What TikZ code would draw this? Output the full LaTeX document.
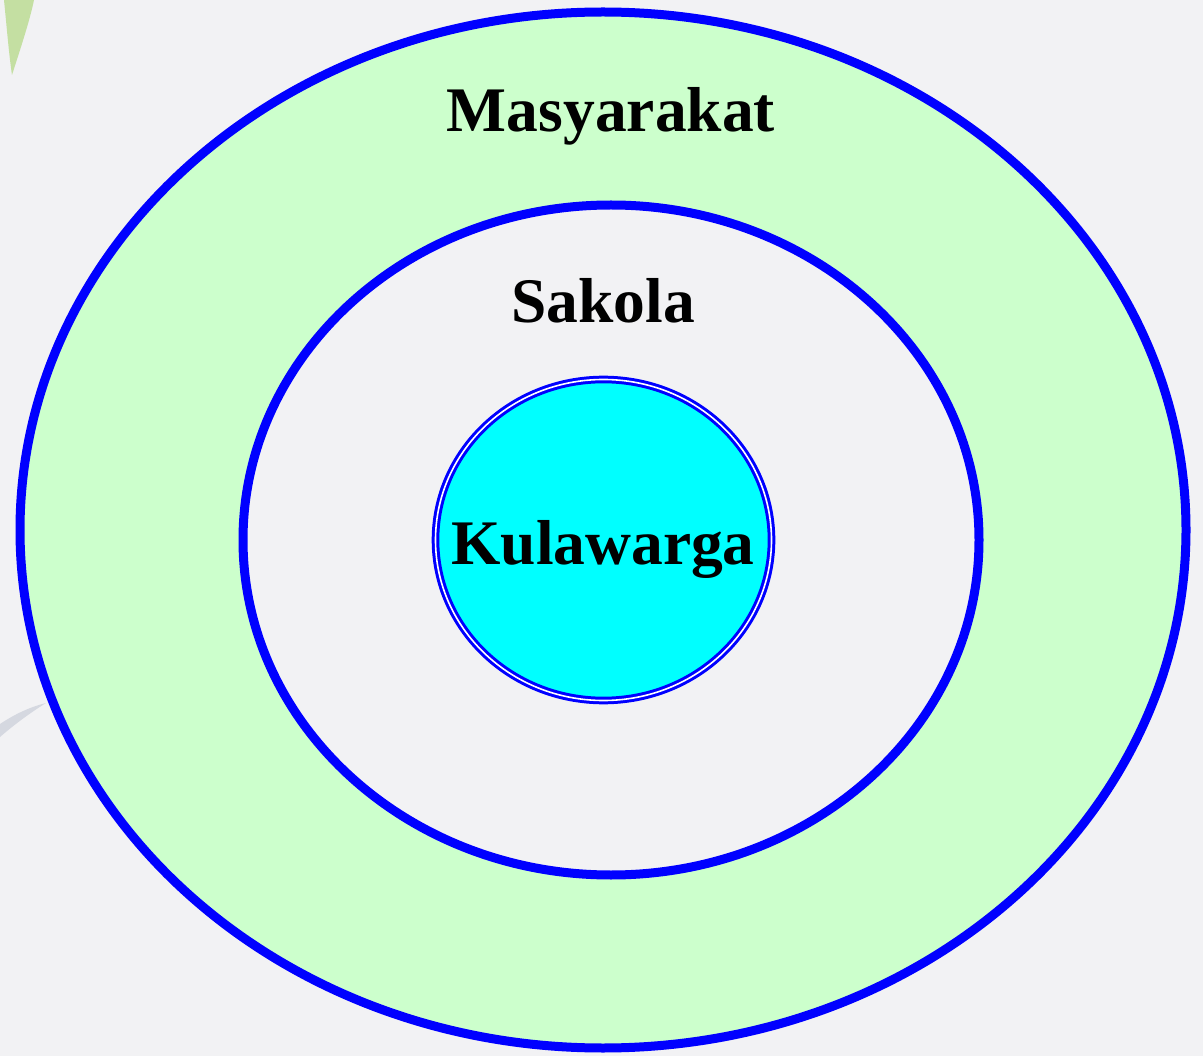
\documentclass[tikz,border=0pt]{standalone}
\usepackage{fontspec}
\setmainfont{Liberation Serif}
\definecolor{bggrey}{HTML}{F2F2F4}
\definecolor{ringgreen}{HTML}{CCFFCC}
\definecolor{leafgreen}{HTML}{B9DB8E}
\definecolor{swoosh}{HTML}{C9CDD8}
\definecolor{aqua}{HTML}{00FFFF}
\definecolor{ringblue}{HTML}{0000FF}
\begin{document}
\begin{tikzpicture}[x=1pt,y=-1pt,
  ring/.style={draw=ringblue,line width=9pt},
  label/.style={font=\bfseries\fontsize{63.5}{70}\selectfont,anchor=base,inner sep=0pt}]
\useasboundingbox (0,0) rectangle (1203,1056);
\fill[bggrey] (0,0) rectangle (1203,1056);
% faint background watermark
\fill[leafgreen,opacity=0.8] (4,0) .. controls (7,30) and (9,55) .. (12,75) .. controls (20,50) and (30,20) .. (34,0) -- cycle;
\fill[swoosh,opacity=0.7] (0,724) .. controls (15,714) and (30,707) .. (46,703) .. controls (30,713) and (15,724) .. (0,737) -- cycle;
% rings
\draw[ring,fill=ringgreen] (603,530) ellipse [x radius=583, y radius=518];
\draw[ring,fill=bggrey] (611,540) ellipse [x radius=368, y radius=335];
\draw[draw=ringblue,line width=3pt,double=white,double distance=1.6pt,fill=aqua] (603.5,540) ellipse [x radius=168, y radius=160.5];
% labels
\node[label] (masy) at (611,132) {Masyarakat};
\node[label] (sak) at (603,323) {Sakola};
\node[label] (kul) at (603,564) {Kulawarga};
\end{tikzpicture}
\end{document}
